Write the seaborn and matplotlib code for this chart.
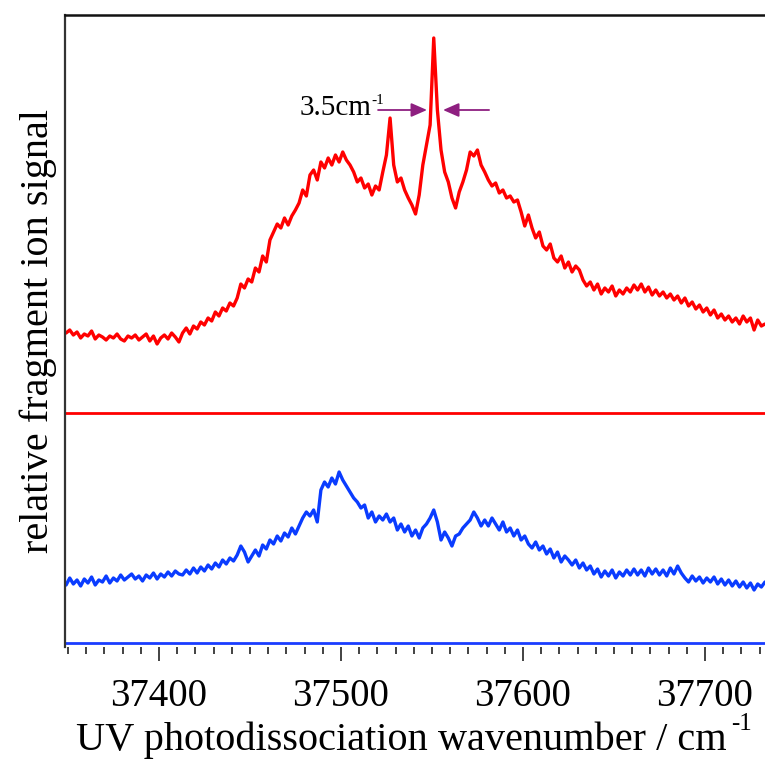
import numpy as np
import pandas as pd
import matplotlib
matplotlib.use("Agg")
import matplotlib.pyplot as plt
from matplotlib.ticker import MultipleLocator
import seaborn as sns

# Wavenumber grid of the scans (cm^-1), 2 cm^-1 steps starting at 37349
start_wn = 37349
step_wn = 2

# Upper trace: fragment signal above its own zero line (arb. units)
red_signal = [
    80, 83, 78, 81, 75, 79, 77, 82, 74, 78, 76, 73, 77, 75, 79, 74, 72, 77, 75, 78, 73, 76, 79, 72, 77, 69, 75, 78, 74, 80, 76, 71,
    80, 85, 79, 87, 84, 91, 88, 95, 92, 101, 97, 105, 102, 110, 107, 115, 129, 125, 134, 131, 145, 141, 157, 151, 173, 181, 189, 185, 195, 188, 197, 203, 210,
    223, 217, 238, 243, 233, 251, 245, 255, 248, 258, 251, 261, 253, 248, 241, 231, 235, 225, 229, 218, 227, 223,
    241, 258, 295, 248, 231, 235, 223, 215, 208, 199, 218, 248, 268, 288, 375, 303, 263, 241, 231, 215, 205,
    221, 231, 243, 261, 257, 263, 248, 241, 233, 227, 230, 220, 223, 215, 217, 211, 213, 201, 187, 198,
    185, 175, 181, 167, 163, 169, 155, 151, 157, 145, 151, 141, 147, 143, 133, 127, 131, 123, 129, 119, 125, 121, 127, 117, 123,
    119, 125, 121, 128, 123, 129, 121, 126, 118, 123, 117, 121, 115, 119, 113, 117, 110, 115, 107, 111, 104, 108, 101, 105, 98,
    103, 95, 99, 93, 97, 91, 95, 89, 97, 91, 95, 83, 93, 87, 89,
]

# Lower trace: fragment signal above its own zero line (arb. units)
blue_signal = [
    58, 65, 59, 63, 57, 64, 60, 66, 58, 63, 61, 67, 60, 65, 62, 68, 63, 66, 69, 64, 67, 62, 68, 65, 70, 64, 69, 66, 71, 67, 72, 69,
    68, 73, 69, 75, 70, 76, 72, 78, 74, 80, 76, 83, 79, 85, 82, 88, 97, 91, 81, 87, 93, 87, 98, 94, 103, 99, 107, 102, 110, 106, 115, 109, 117,
    125, 131, 127, 133, 121, 153, 161, 156, 165, 159, 171, 163, 157, 151, 145, 141, 135, 138, 125, 131, 121, 127,
    123, 129, 121, 125, 113, 119, 111, 117, 107, 113, 105, 115, 119, 125, 133, 121, 103, 111, 105, 97, 107,
    109, 115, 119, 123, 131, 125, 117, 123, 117, 125, 119, 113, 121, 111, 115, 107, 113, 103, 107, 99,
    95, 101, 93, 97, 89, 94, 85, 91, 81, 87, 83, 78, 83, 75, 80, 73, 77, 69, 74, 66, 72, 67, 73, 65, 71,
    67, 73, 68, 74, 68, 73, 67, 75, 69, 74, 68, 73, 67, 75, 69, 77, 70, 65, 61, 67, 62, 66, 60, 65, 61,
    66, 59, 64, 58, 63, 57, 62, 56, 61, 55, 60, 53, 59, 56, 61,
]

# Vertical offsets of the stacked traces
red_offset = 234
blue_offset = 4

# Linewidth annotation
width_label = "3.5cm"
width_left, width_right = 37547.3, 37556.1
width_level = 537

x_ticks = [37400, 37500, 37600, 37700]
x_label = "UV photodissociation wavenumber / cm"
y_label = "relative fragment ion signal"
unit_exp = "-1"

wn = start_wn + step_wn * np.arange(len(red_signal))
df = pd.DataFrame({
    "wavenumber": np.concatenate([wn, wn]),
    "signal": np.concatenate([np.array(red_signal) + red_offset,
                              np.array(blue_signal) + blue_offset]),
    "trace": ["upper"] * len(wn) + ["lower"] * len(wn),
})

sns.set_theme(style="ticks")
plt.rcParams["font.family"] = ["Liberation Serif", "DejaVu Serif"]
plt.rcParams["text.color"] = "black"
plt.rcParams["axes.labelcolor"] = "black"
plt.rcParams["xtick.color"] = "#222222"
plt.rcParams["xtick.labelcolor"] = "black"

fig = plt.figure(figsize=(7.65, 7.6), dpi=100)
ax = fig.add_axes([65 / 765, 1 - 647 / 760, 700 / 765, 632 / 760])

palette = {"upper": "#ff0000", "lower": "#0a3cff"}
sns.lineplot(data=df, x="wavenumber", y="signal", hue="trace", palette=palette,
             linewidth=2.4, legend=False, ax=ax, estimator=None)

ax.axhline(red_offset, color="#ff0000", lw=2.0)
ax.axhline(blue_offset, color="#1a3cff", lw=2.0)

# Linewidth arrows and label
arrow_kw = dict(arrowstyle="-|>,head_length=0.8,head_width=0.35", color="#8e1f80", lw=1.3,
                shrinkA=0, shrinkB=0)
ax.annotate("", xy=(width_left, width_level), xytext=(37520.4, width_level), arrowprops=arrow_kw)
ax.annotate("", xy=(width_right, width_level), xytext=(37581.4, width_level), arrowprops=arrow_kw)
note = ax.text(37516.6, width_level - 5, width_label, ha="right", va="baseline", fontsize=21)

ax.set_xlim(37348.4, 37733)
ax.set_ylim(0, 632)
ax.set_xticks(x_ticks)
ax.xaxis.set_minor_locator(MultipleLocator(10))
ax.set_yticks([])
ax.tick_params(axis="x", which="major", direction="out", length=10, width=1.2,
               labelsize=28, pad=12)
ax.tick_params(axis="x", which="minor", direction="out", length=5, width=1.2)

for side in ["right", "bottom"]:
    ax.spines[side].set_visible(False)
ax.spines["left"].set_linewidth(1.6)
ax.spines["left"].set_color("#333333")
ax.spines["top"].set_linewidth(1.8)
ax.spines["top"].set_color("#111111")

xl = ax.set_xlabel(x_label, fontsize=29, labelpad=5)
ax.set_ylabel(y_label, fontsize=29, labelpad=6)

# Shift the x label left so label plus exponent is centred, then add the raised exponent
exp_size = 18
fig.canvas.draw()
renderer = fig.canvas.get_renderer()
probe = fig.text(0, 0, unit_exp, fontsize=exp_size)
exp_w = probe.get_window_extent(renderer).width
probe.remove()
ax_bb = ax.get_window_extent(renderer)
cx = (ax_bb.x0 + ax_bb.x1) / 2 - exp_w / 2 - 3
xl.set_x((cx - ax_bb.x0) / ax_bb.width)
fig.canvas.draw()
lb = xl.get_window_extent(renderer)
fig.text(lb.x1 + 4, lb.y1 + 9, unit_exp, fontsize=exp_size, ha="left", va="top",
         transform=None)

# Raised exponent on the linewidth label
nb = note.get_window_extent(renderer)
fig.text(nb.x1 + 0.5, nb.y1 + 1, unit_exp, fontsize=11, ha="left", va="top", transform=None)

fig.savefig("out.png", dpi=100)
